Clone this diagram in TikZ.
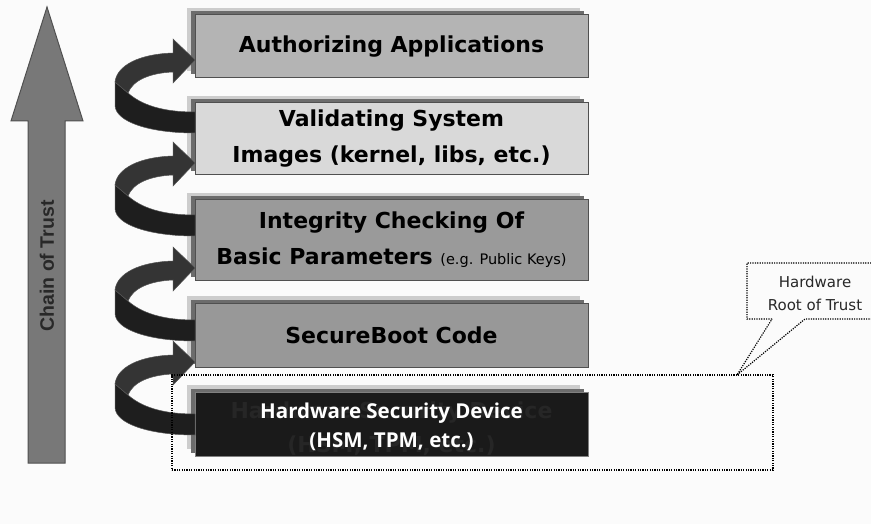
\documentclass[tikz,border=0pt]{standalone}
\usepackage{fontspec}
\setmainfont{DejaVu Sans}
\newfontfamily\hsmfont{Open Sans}
\newfontfamily\cotfont{Liberation Sans}
\usetikzlibrary{shadows}

\definecolor{pagebg}{RGB}{251,251,251}
\definecolor{layerlight}{RGB}{205,205,205}
\definecolor{layerdark}{RGB}{108,108,108}
\definecolor{edgegray}{RGB}{80,80,80}
\definecolor{fillA}{RGB}{180,180,180}
\definecolor{fillB}{RGB}{217,217,217}
\definecolor{fillC}{RGB}{154,154,154}
\definecolor{fillD}{RGB}{152,152,152}
\definecolor{fillE}{RGB}{26,26,26}
\definecolor{ghosttext}{RGB}{38,38,38}
\definecolor{twistdark}{RGB}{30,30,30}
\definecolor{twistlight}{RGB}{52,52,52}
\definecolor{twistedge}{RGB}{85,85,85}
\definecolor{bigarrow}{RGB}{120,120,120}
\definecolor{labelgray}{RGB}{40,40,40}

\tikzset{
  tier/.style={rectangle, draw=edgegray, line width=1pt, minimum width=393pt,
    inner sep=0pt, align=center, text=black,
    font=\bfseries\fontsize{22}{36}\selectfont,
    copy shadow={shadow xshift=-8.5pt, shadow yshift=7pt, fill=layerlight, draw=none},
    copy shadow={shadow xshift=-4.5pt, shadow yshift=3.5pt, fill=layerdark, draw=none}},
  dotline/.style={draw=black, line width=1.2pt, dash pattern=on 1.2pt off 1.2pt},
  twist/.pic={
    % lower half of the ribbon, leaving the box below
    \fill[twistdark, draw=twistedge, line width=0.5pt]
      (-80,22) -- (-67,33) .. controls (-50,48) and (-25,52) .. (0,52)
      -- (0,73) .. controls (-45,73) and (-80,62) .. (-80,45) -- cycle;
    % upper half of the ribbon with its head
    \fill[twistlight, draw=twistedge, line width=0.5pt]
      (-67,33) -- (-80,22) .. controls (-78,5) and (-55,-6) .. (-22,-7)
      -- (-22,-21) -- (0,0) -- (-22,23) -- (-22,12)
      .. controls (-45,13) and (-62,20) .. (-67,33) -- cycle;
  }
}

\begin{document}
\begin{tikzpicture}[x=1pt,y=-1pt]
\useasboundingbox (0,0) rectangle (871,524);
\fill[pagebg] (0,0) rectangle (871,524);

% chain of trust arrow
\draw[fill=bigarrow, draw=edgegray, line width=1pt, line join=miter]
  (28,463) -- (28,121) -- (11,121) -- (47,7) -- (83,121) -- (65,121) -- (65,463) -- cycle;
\node[rotate=90, text=labelgray, font=\cotfont\bfseries\fontsize{19.5}{21}\selectfont]
  (cot) at (47,266) {Chain of Trust};

% the stack of layers
\node[tier, fill=fillA, minimum height=63pt] (apps) at (391.5,46.5) {Authorizing Applications};
\node[tier, fill=fillB, minimum height=72pt] (images) at (391.5,139)
  {Validating System\\Images (kernel, libs, etc.)};
\node[tier, fill=fillC, minimum height=80pt] (params) at (391.5,240)
  {Integrity Checking Of\\Basic Parameters {\mdseries\fontsize{14.5}{16}\selectfont (e.g. Public Keys)}};
\node[tier, fill=fillD, minimum height=64pt] (boot) at (391.5,335) {SecureBoot Code};
\node[tier, fill=fillE, draw=gray, minimum height=64pt] (hsm) at (391.5,424) {};
\node[text=ghosttext, align=center, font=\bfseries\fontsize{22}{34}\selectfont]
  (hsmghost) at (391.5,429) {Hardware Security Device\\(HSM, TPM, etc.)};
\node[text=white, align=center, font=\hsmfont\bfseries\fontsize{20.5}{29}\selectfont]
  (hsmtext) at (391.5,427) {Hardware Security Device\\(HSM, TPM, etc.)};

% twisted arrows climbing the stack
\pic at (195,60) {twist};
\pic at (195,163) {twist};
\pic at (195,268) {twist};
\pic at (195,362) {twist};

% hardware root of trust
\node[dotline, rectangle, minimum width=601pt, minimum height=95pt, inner sep=0pt]
  (root) at (472.5,422.5) {};
\coordinate (calltip) at (737,375);
\filldraw[dotline, fill=pagebg]
  (772,319) -- (747,319) -- (747,263) -- (873,263) -- (873,319) -- (805,319) -- (calltip) -- cycle;
\node[align=center, text=labelgray, font=\fontsize{15}{23}\selectfont]
  (calltext) at (815,293) {Hardware\\Root of Trust};
\end{tikzpicture}
\end{document}
